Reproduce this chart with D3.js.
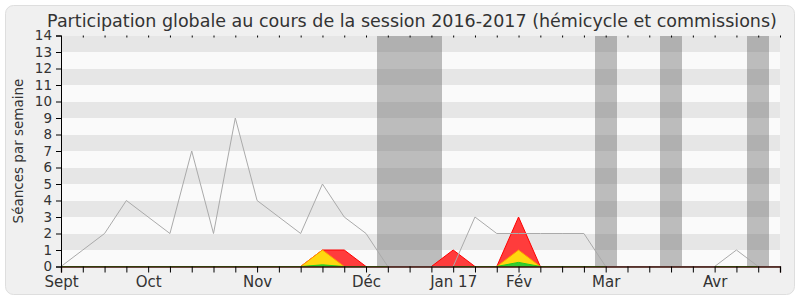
<!DOCTYPE html>
<html>
<head>
<meta charset="utf-8">
<script src="https://cdn.jsdelivr.net/npm/d3@7"></script>
<style>
  body { margin: 0; background: #fff; }
  text { font-family: "DejaVu Sans", sans-serif; }
</style>
</head>
<body>
<div id="chart"></div>
<script>
// weekly values, week 0 = first week of Sept 2016
const totalSeances = [0, 1, 2, 4, 3, 2, 7, 2, 9, 4, 3, 2, 5, 3, 2, 0, 0, 0, 0, 3, 2, 2, 2, 2, 2, 0, 0, 0, 0, 0, 0, 1, 0, 0];
const redSeries    = [0, 0, 0, 0, 0, 0, 0, 0, 0, 0, 0, 0, 1, 1, 0, 0, 0, 0, 1, 0, 0, 3, 0, 0, 0, 0, 0, 0, 0, 0, 0, 0, 0, 0];
const yellowSeries = [0, 0, 0, 0, 0, 0, 0, 0, 0, 0, 0, 0, 1, 0, 0, 0, 0, 0, 0, 0, 0, 1, 0, 0, 0, 0, 0, 0, 0, 0, 0, 0, 0, 0];
const greenSeries  = [0, 0, 0, 0, 0, 0, 0, 0, 0, 0, 0, 0, 0.1, 0, 0, 0, 0, 0, 0, 0, 0, 0.25, 0, 0, 0, 0, 0, 0, 0, 0, 0, 0, 0, 0];
const vacationWeeks = [15, 16, 17, 25, 28, 32];
const monthTicks = [0, 4, 9, 14, 18, 21, 25, 30];
const monthLabels = ["Sept", "Oct", "Nov", "Déc", "Jan 17", "Fév", "Mar", "Avr"];
const yTicks = d3.range(0, 15);

const width = 800, height = 300;
const margin = { top: 35.5, right: 20, bottom: 33.5, left: 61 };

const svg = d3.select("#chart").append("svg")
    .attr("width", width)
    .attr("height", height);

// outer rounded frame
svg.append("rect")
    .attr("x", 5.5).attr("y", 5.5)
    .attr("width", 789).attr("height", 289)
    .attr("rx", 8)
    .attr("fill", "#f0f0f0")
    .attr("stroke", "#dedede");

const x = d3.scaleLinear()
    .domain([0, totalSeances.length - 1])
    .range([margin.left, width - margin.right]);

const y = d3.scaleLinear()
    .domain([0, 14])
    .range([height - margin.bottom, margin.top]);

// horizontal stripes
svg.append("g")
    .selectAll("rect")
    .data(d3.range(0, 14))
    .enter().append("rect")
    .attr("x", x(0))
    .attr("width", x.range()[1] - x(0))
    .attr("y", d => y(d + 1))
    .attr("height", d => y(d) - y(d + 1))
    .attr("fill", d => d % 2 === 1 ? "#e6e6e6" : "#fafafa")
    .attr("shape-rendering", "crispEdges");

// holiday weeks
svg.append("g")
    .selectAll("rect")
    .data(vacationWeeks)
    .enter().append("rect")
    .attr("x", d => x(d - 0.5))
    .attr("width", d => x(d + 0.5) - x(d - 0.5))
    .attr("y", y(14))
    .attr("height", y(0) - y(14))
    .attr("fill", "#666")
    .attr("opacity", 0.42)
    .attr("shape-rendering", "crispEdges");

const area = d3.area()
    .x((d, i) => x(i))
    .y0(y(0))
    .y1(d => y(d));

svg.append("path")
    .datum(redSeries)
    .attr("d", area)
    .attr("fill", "#ff3c3c")
    .attr("stroke", "#ff0000")
    .attr("stroke-width", 1);

svg.append("path")
    .datum(yellowSeries)
    .attr("d", area)
    .attr("fill", "#ffd70f")
    .attr("stroke", "#ff9900")
    .attr("stroke-width", 1);

svg.append("path")
    .datum(greenSeries)
    .attr("d", area)
    .attr("fill", "#33cc33")
    .attr("stroke", "#22cc22")
    .attr("stroke-width", 1);

// total line
svg.append("path")
    .datum(totalSeances)
    .attr("d", d3.line().x((d, i) => x(i)).y(d => y(d)))
    .attr("fill", "none")
    .attr("stroke", "#aaaaaa")
    .attr("stroke-width", 1);

// axes
const xAxis = svg.append("g")
    .attr("transform", `translate(0,${y(0)})`)
    .call(d3.axisBottom(x)
        .tickValues(d3.range(0, totalSeances.length))
        .tickSize(6)
        .tickFormat(d => {
            const i = monthTicks.indexOf(d);
            return i >= 0 ? monthLabels[i] : "";
        }));
xAxis.select(".domain").attr("stroke", "#3a0c04").attr("stroke-width", 1.3);
xAxis.selectAll("text")
    .attr("y", 10)
    .attr("dy", "0.71em")
    .attr("fill", "#333")
    .style("font-size", "15px")
    .style("font-family", "DejaVu Sans");

// small ticks along top edge
const topAxis = svg.append("g")
    .attr("transform", `translate(0,${y(14)})`)
    .call(d3.axisTop(x)
        .tickValues(d3.range(0, totalSeances.length))
        .tickSize(-2)
        .tickFormat(""));
topAxis.select(".domain").remove();

const yAxis = svg.append("g")
    .attr("transform", `translate(${margin.left},0)`)
    .call(d3.axisLeft(y).tickValues(yTicks).tickSize(5).tickPadding(4));
yAxis.selectAll("text")
    .attr("fill", "#333")
    .style("font-size", "13.5px")
    .style("font-family", "DejaVu Sans");

// y axis title
svg.append("text")
    .attr("transform", "translate(23,151) rotate(-90)")
    .attr("text-anchor", "middle")
    .attr("fill", "#333")
    .style("font-size", "13.5px")
    .text("Séances par semaine");

// title
svg.append("text")
    .attr("x", 412)
    .attr("y", 27)
    .attr("text-anchor", "middle")
    .attr("fill", "#333")
    .style("font-size", "17.5px")
    .text("Participation globale au cours de la session 2016-2017 (hémicycle et commissions)");
</script>
</body>
</html>
